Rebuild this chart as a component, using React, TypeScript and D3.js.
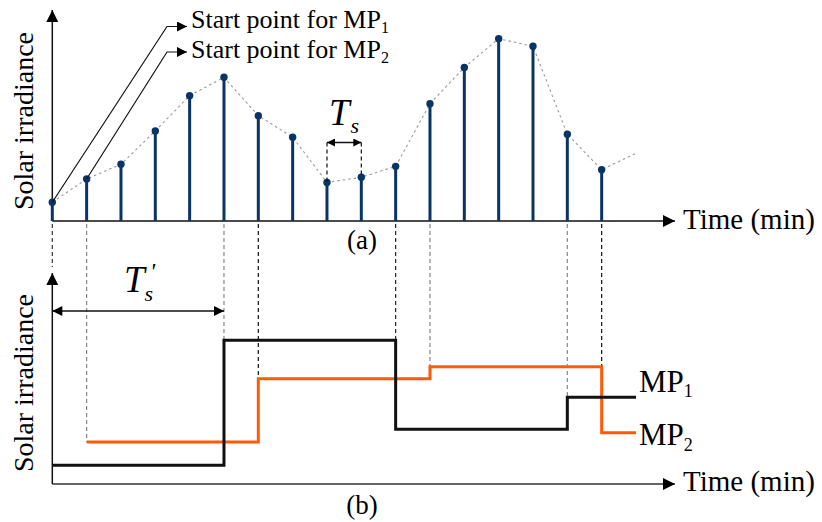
import React from 'react';
import * as d3 from 'd3';

const irradiance = [89, 199, 269, 427, 594, 681, 499, 397, 183, 207, 259, 556, 728, 864, 828, 411, 243];
// the dotted trend keeps going one step past the last sample
const trendTail = 321;
// sample instants where each measuring period starts
const mp1Starts = [0, 5, 10, 15];
const mp2Starts = [1, 6, 11, 16];
const lastInstant = 17;
// dashed link colours, per instant
const linkTone: Record<number, string> = { 0: '#333', 1: '#888', 5: '#888', 6: '#111', 10: '#222', 11: '#888', 15: '#888', 16: '#111' };

const FONT = '"Liberation Serif", "Times New Roman", serif';
const NAVY = '#0b3466';
const ORANGE = '#ff5a0a';

export default function App() {
  const x = d3.scaleLinear().domain([0, lastInstant]).range([52.3, 636]);
  const yA = d3.scaleLinear().domain([0, 1000]).range([221, 10]);
  const yB = d3.scaleLinear().domain([0, 1000]).range([484, 273]);
  const x0 = x(0);
  const axisEnd = 675;

  const trend = d3.line<number>().x((_, i) => x(i)).y(d => yA(d))(irradiance.concat(trendTail));

  const hold = (starts: number[]) => {
    const pts: [number, number][] = starts.map(i => [i, irradiance[i]]);
    pts.push([lastInstant, irradiance[starts[starts.length - 1]]]);
    return d3.line<[number, number]>().x(d => x(d[0])).y(d => yB(d[1])).curve(d3.curveStepAfter)(pts);
  };

  const links = mp1Starts.concat(mp2Starts).map(i => ({
    i,
    y2: i === 0 ? yB(1000) - 6 : yB(irradiance[i]),
  }));

  const marker = (id: string, w: number, h: number) => (
    <marker id={id} viewBox="0 0 10 10" refX="10" refY="5" markerWidth={w} markerHeight={h}
      markerUnits="userSpaceOnUse" orient="auto-start-reverse">
      <path d="M0,0 L10,5 L0,10 z" fill="#000" />
    </marker>
  );

  return (
    <svg width={822} height={522} style={{ position: 'absolute', left: 0, top: 0, background: '#fff' }}
      fontFamily={FONT}>
      <defs>
        {marker('ax', 15, 12)}
        {marker('mid', 15, 10)}
        {marker('sm', 11, 8)}
        {marker('lead', 13, 10)}
      </defs>

      {/* ---------- panel (a) ---------- */}
      <line x1={x0} y1={yA(0)} x2={axisEnd} y2={yA(0)} stroke="#111" strokeWidth={1.5} markerEnd="url(#ax)" />
      <line x1={x0} y1={yA(0)} x2={x0} y2={yA(1000)} stroke="#111" strokeWidth={1.5} markerEnd="url(#ax)" />

      <path d={trend || ''} fill="none" stroke="#999" strokeWidth={1.1} strokeDasharray="2.5,3" />
      {irradiance.map((v, i) => (
        <g key={i}>
          <line x1={x(i)} x2={x(i)} y1={yA(0)} y2={yA(v)} stroke={NAVY} strokeWidth={3} />
          <circle cx={x(i)} cy={yA(v)} r={3.7} fill={NAVY} />
        </g>
      ))}

      {/* leaders to the start points */}
      <polyline points={`${x(0)},${yA(irradiance[0])} 167,26.5 187,26.5`} fill="none" stroke="#111" strokeWidth={1.2} markerEnd="url(#lead)" />
      <polyline points={`${x(1)},${yA(irradiance[1])} 167,52 187,52`} fill="none" stroke="#111" strokeWidth={1.2} markerEnd="url(#lead)" />
      <text x={191} y={28} fontSize={26}>Start point for MP<tspan fontSize={16} dy={5}>1</tspan></text>
      <text x={191} y={58} fontSize={26}>Start point for MP<tspan fontSize={16} dy={5}>2</tspan></text>

      {/* sampling interval Ts */}
      <line x1={x(8)} x2={x(8)} y1={142.5} y2={yA(irradiance[8])} stroke="#111" strokeWidth={1.2} strokeDasharray="4,3" />
      <line x1={x(9)} x2={x(9)} y1={142.5} y2={yA(irradiance[9])} stroke="#111" strokeWidth={1.2} strokeDasharray="4,3" />
      <line x1={x(8)} x2={x(9)} y1={142.5} y2={142.5} stroke="#111" strokeWidth={1.5}
        markerStart="url(#sm)" markerEnd="url(#sm)" />
      <text x={329} y={125} fontSize={37} fontStyle="italic">T<tspan fontSize={22} dx={1} dy={8}>s</tspan></text>

      <text x={683} y={229} fontSize={29}>Time (min)</text>
      <text x={362} y={249} fontSize={27} textAnchor="middle">(a)</text>
      <text transform="translate(33,121) rotate(-90)" fontSize={28} textAnchor="middle">Solar irradiance</text>

      {/* dashed links between panels */}
      {links.map(l => (
        <line key={l.i} x1={x(l.i)} x2={x(l.i)} y1={yA(0) + 3} y2={l.y2}
          stroke={linkTone[l.i]} strokeWidth={1.2} strokeDasharray="4,3" />
      ))}

      {/* ---------- panel (b) ---------- */}
      <line x1={x0} y1={yB(0)} x2={axisEnd} y2={yB(0)} stroke="#333" strokeWidth={1.5} markerEnd="url(#ax)" />
      <line x1={x0} y1={yB(0)} x2={x0} y2={yB(1000)} stroke="#111" strokeWidth={1.5} markerEnd="url(#ax)" />

      <path d={hold(mp2Starts) || ''} fill="none" stroke={ORANGE} strokeWidth={3} />
      <path d={hold(mp1Starts) || ''} fill="none" stroke="#111" strokeWidth={3} />

      {/* hold interval Ts' */}
      <line x1={x(0)} x2={x(5)} y1={311} y2={311} stroke="#111" strokeWidth={1.5}
        markerStart="url(#mid)" markerEnd="url(#mid)" />
      <text x={124} y={292} fontSize={37} fontStyle="italic">T<tspan fontSize={22} dx={0} dy={9}>s</tspan></text>
      <text x={150} y={279} fontSize={24} fontStyle="italic">'</text>

      <text x={639} y={392} fontSize={31}>MP<tspan fontSize={18} dy={5}>1</tspan></text>
      <text x={639} y={445} fontSize={31}>MP<tspan fontSize={18} dy={6}>2</tspan></text>

      <text x={683} y={491} fontSize={29}>Time (min)</text>
      <text x={362} y={514} fontSize={27} textAnchor="middle">(b)</text>
      <text transform="translate(33,383) rotate(-90)" fontSize={28} textAnchor="middle">Solar irradiance</text>
    </svg>
  );
}
